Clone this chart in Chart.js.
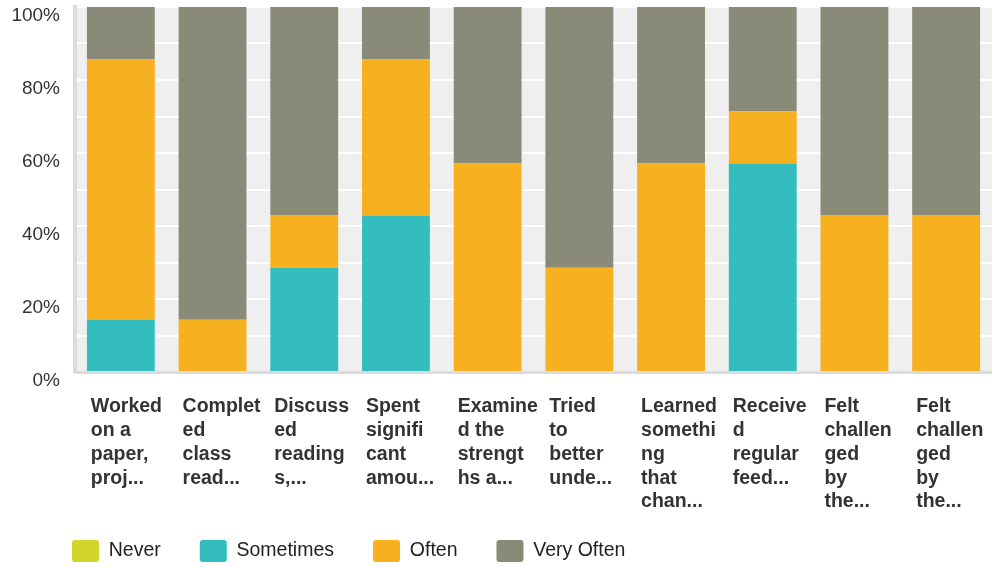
<!DOCTYPE html>
<html lang="en">
<head>
    <meta charset="UTF-8">
    <title>Frequency of activities</title>
    <script src="https://cdn.jsdelivr.net/npm/chart.js"></script>
    <style>
        body { margin: 0; background: #ffffff; }
        /* Fixed-size box so the chart fills the 992x567 window */
        .chart-box { position: relative; width: 992px; height: 567px; }
    </style>
</head>
<body>
<div class="chart-box">
    <canvas id="myChart"></canvas>
</div>

<script>
    // Category labels, already wrapped and cut like the survey tool does
    const categories = [
        ['Worked', 'on a', 'paper,', 'proj...'],
        ['Complet', 'ed', 'class', 'read...'],
        ['Discuss', 'ed', 'reading', 's,...'],
        ['Spent', 'signifi', 'cant', 'amou...'],
        ['Examine', 'd the', 'strengt', 'hs a...'],
        ['Tried', 'to', 'better', 'unde...'],
        ['Learned', 'somethi', 'ng', 'that', 'chan...'],
        ['Receive', 'd', 'regular', 'feed...'],
        ['Felt', 'challen', 'ged', 'by', 'the...'],
        ['Felt', 'challen', 'ged', 'by', 'the...']
    ];

    // Share of answers per category, in percent
    const never      = [0, 0, 0, 0, 0, 0, 0, 0, 0, 0];
    const sometimes  = [14.29, 0, 28.57, 42.86, 0, 0, 0, 57.14, 0, 0];
    const often      = [71.43, 14.29, 14.29, 42.86, 57.14, 28.57, 57.14, 14.29, 42.86, 42.86];
    const veryOften  = [14.29, 85.71, 57.14, 14.29, 42.86, 71.43, 42.86, 28.57, 57.14, 57.14];

    // Y axis ticks (grid every 10, label every 20)
    const yMin = 0;
    const yMax = 100;
    const yStep = 10;
    const yLabelEvery = 20;

    // Grey plot background + nudge of the legend row
    const plotBackground = {
        id: 'plotBackground',
        afterLayout(chart) {
            const lg = chart.legend;
            lg.left += 33; lg.right += 33;
            lg.top -= 16; // bottom stays, so the legend clip box still holds the row
        },
        beforeDraw(chart) {
            const { ctx, chartArea: a } = chart;
            ctx.save();
            ctx.fillStyle = '#efefef';
            ctx.fillRect(a.left, a.top, a.right - a.left, a.bottom - a.top);
            ctx.restore();
        }
    };

    const ctx = document.getElementById('myChart').getContext('2d');

    const myChart = new Chart(ctx, {
        type: 'bar',
        data: {
            labels: categories,
            datasets: [
                { label: 'Never', data: never, backgroundColor: '#d2d52a' },
                { label: 'Sometimes', data: sometimes, backgroundColor: '#33bdbf' },
                { label: 'Often', data: often, backgroundColor: '#f7b01e' },
                { label: 'Very Often', data: veryOften, backgroundColor: '#8a8a78' }
            ]
        },
        options: {
            responsive: true,
            maintainAspectRatio: false,
            animation: false,
            layout: { padding: { top: 7, right: 0, left: 0, bottom: 0 } },
            datasets: {
                bar: { categoryPercentage: 1, barPercentage: 0.74, borderWidth: 0 }
            },
            scales: {
                x: {
                    stacked: true,
                    grid: { display: false },
                    border: { display: true, color: '#dcdcdc', width: 3 },
                    afterFit: (scale) => {
                        scale.height = 145;
                        scale.paddingLeft = 0;
                        scale.paddingRight = 0;
                    },
                    ticks: {
                        autoSkip: false,
                        maxRotation: 0,
                        minRotation: 0,
                        align: 'start',
                        labelOffset: -30,
                        padding: 15,
                        color: '#333333',
                        font: { family: '"Liberation Sans", Arial, sans-serif', size: 19.5, weight: 'bold', lineHeight: 1.22 }
                    }
                },
                y: {
                    stacked: true,
                    min: yMin,
                    max: yMax,
                    grid: { color: '#ffffff', lineWidth: 2, drawTicks: false },
                    border: { display: true, color: '#dcdcdc', width: 4 },
                    afterFit: (scale) => {
                        scale.width = 75;
                        scale.paddingTop = 0;
                        scale.paddingBottom = 0;
                    },
                    ticks: {
                        stepSize: yStep,
                        autoSkip: false,
                        padding: 15,
                        labelOffset: 9,
                        color: '#333333',
                        font: { family: '"Liberation Sans", Arial, sans-serif', size: 19 },
                        callback: (v) => (v % yLabelEvery === 0 ? v + '%' : '')
                    }
                }
            },
            plugins: {
                legend: {
                    position: 'bottom',
                    align: 'start',
                    maxHeight: 50,
                    labels: {
                        boxWidth: 27,
                        boxHeight: 22,
                        padding: 39,
                        useBorderRadius: true,
                        borderRadius: 3,
                        color: '#222222',
                        font: { family: '"Liberation Sans", Arial, sans-serif', size: 19.5 }
                    }
                },
                tooltip: { enabled: false }
            }
        },
        plugins: [plotBackground]
    });
</script>
</body>
</html>
